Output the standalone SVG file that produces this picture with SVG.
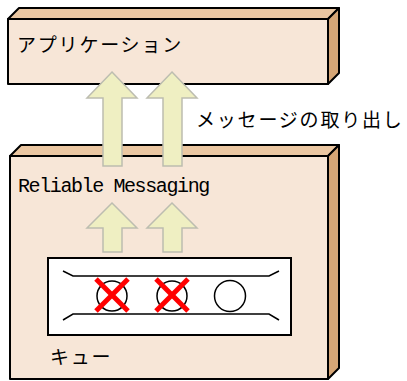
<svg xmlns="http://www.w3.org/2000/svg" width="407" height="381" viewBox="0 0 407 381">
<defs>
<style>
.front{fill:#F7E6D7;stroke:#000;stroke-width:2;stroke-linejoin:round}
.top{fill:#EBC7A2;stroke:#000;stroke-width:2;stroke-linejoin:round}
.side{fill:#D6A676;stroke:#000;stroke-width:2;stroke-linejoin:round}
.arrow{fill:#EFEFC2;stroke:#BDBDB0;stroke-width:1.5;stroke-linejoin:miter}
.jp{font-family:"Noto Sans CJK JP","Noto Sans",sans-serif;font-size:19px;letter-spacing:1.8px;fill:#000}
.mono{font-family:"Liberation Mono","DejaVu Sans Mono",monospace;font-size:20px;letter-spacing:-1.4px;fill:#000}
.rail{fill:none;stroke:#000;stroke-width:1.5}
.x{stroke:#FF0000;stroke-width:5;stroke-linecap:butt}
</style>
</defs>
<g id="application">
<polygon class="top" points="8,19 19,8 339,8 328,19"/>
<polygon class="side" points="328,19 339,8 339,73 328,84"/>
<rect class="front" x="8" y="19" width="320" height="65"/>
<text class="jp" x="17" y="52">アプリケーション</text>
</g>
<g id="reliable-messaging">
<polygon class="top" points="10,156 21,145 339,145 328,156"/>
<polygon class="side" points="328,156 339,145 339,368 328,379"/>
<rect class="front" x="10" y="156" width="318" height="223"/>
<text class="mono" x="18" y="192">Reliable Messaging</text>
</g>
<g id="queue">
<rect x="48" y="258" width="243" height="77" fill="#FFFFFF" stroke="#000" stroke-width="2"/>
<polyline class="rail" points="63,271 73,276 269,276 279,271"/>
<polyline class="rail" points="63,320 73,314 269,314 279,320"/>
<circle cx="112" cy="296" r="15" fill="none" stroke="#000" stroke-width="1.5"/>
<circle cx="172" cy="296" r="15" fill="none" stroke="#000" stroke-width="1.5"/>
<circle cx="230" cy="296" r="15.5" fill="none" stroke="#000" stroke-width="1.5"/>
<line class="x" x1="96" y1="279" x2="128" y2="311"/>
<line class="x" x1="128" y1="279" x2="96" y2="311"/>
<line class="x" x1="156" y1="279" x2="188" y2="311"/>
<line class="x" x1="188" y1="279" x2="156" y2="311"/>
<text class="jp" x="50" y="364">キュー</text>
</g>
<g id="connectors">
<polygon class="arrow" points="112,72 137,98 122,98 122,166 103,166 103,98 87,98"/>
<polygon class="arrow" points="172,72 197,98 182,98 182,166 163,166 163,98 147,98"/>
<polygon class="arrow" points="112,203 137,228 122,228 122,252 103,252 103,228 87,228"/>
<polygon class="arrow" points="172,203 197,228 182,228 182,252 163,252 163,228 147,228"/>
<text class="jp" x="196" y="127">メッセージの取り出し</text>
</g>
</svg>
